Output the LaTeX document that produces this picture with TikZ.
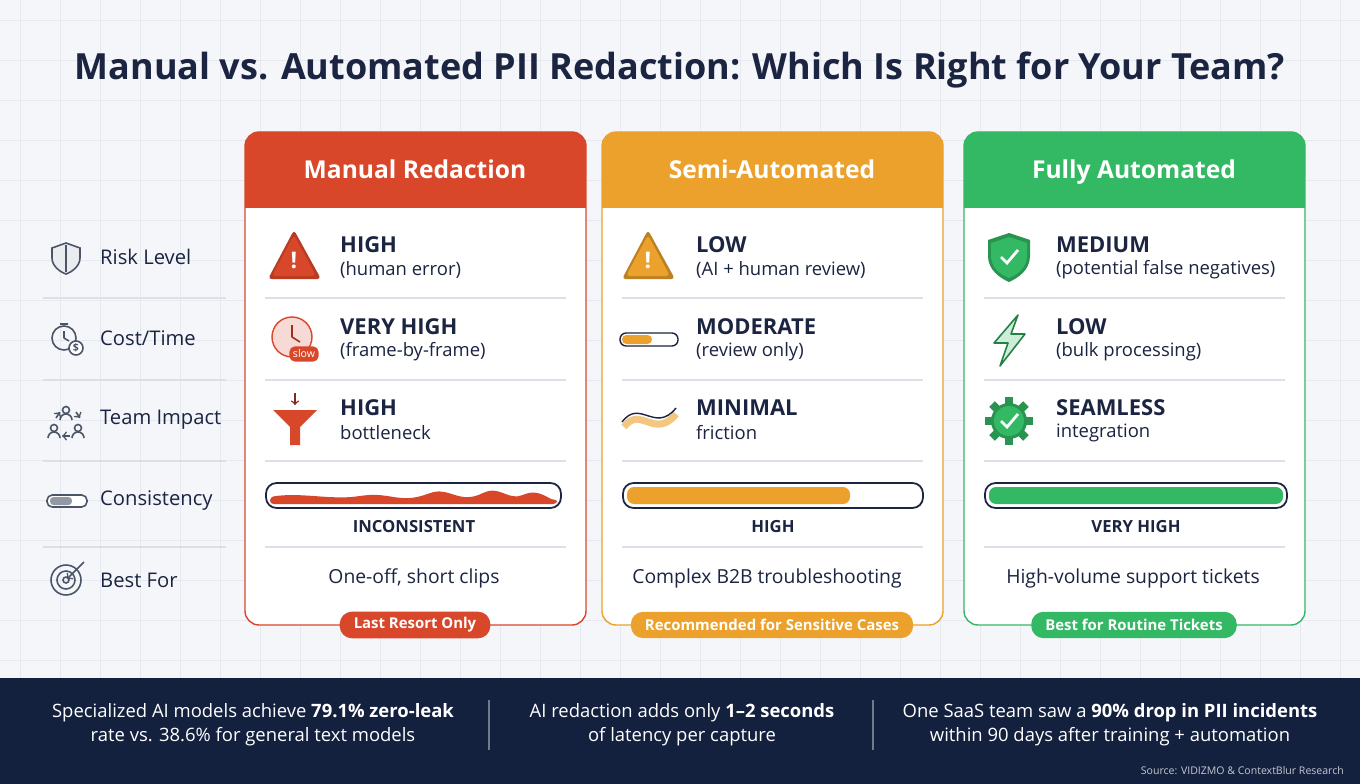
\documentclass[tikz,border=0pt]{standalone}
\usepackage{fontspec}
\setmainfont{Open Sans}
\usetikzlibrary{calc}
\definecolor{bgc}{HTML}{F4F6FA}
\definecolor{gridc}{HTML}{E6EAF0}
\definecolor{ink}{HTML}{1B2440}
\definecolor{navy}{HTML}{13213F}
\definecolor{lnc}{HTML}{DCE0E6}
\definecolor{icc}{HTML}{4A5568}
\definecolor{redc}{HTML}{D9472B}
\definecolor{orc}{HTML}{EBA12B}
\definecolor{grc}{HTML}{33B864}
\newcommand{\fs}[1]{\fontsize{#1}{#1}\selectfont}

\begin{document}
\begin{tikzpicture}
	[
		x=0.02cm, y=-0.02cm,
		rowlbl/.style = {anchor=west, text=ink, font=\fs{11.5}},
		val/.style = {anchor=west, text=ink, font=\fs{12.5}\bfseries},
		sub/.style = {anchor=west, text=ink, font=\fs{10.5}},
		barlbl/.style = {text=ink, font=\fs{9.5}\bfseries},
		best/.style = {text=ink, font=\fs{11}},
		hdr/.style = {text=white, font=\fs{14}\bfseries},
		badge/.style = {rounded corners=7, text=white, font=\fs{8.5}\bfseries, inner xsep=8pt, minimum height=15pt},
		foot/.style = {text=white, font=\fontsize{10.5}{13.5}\selectfont, align=center},
		sep/.style = {draw=lnc, line width=0.6pt},
		ico/.style = {draw=icc, line width=0.9pt}
	]
	
	% background and grid
	\useasboundingbox (0,0) rectangle (1360,784);
	\fill[bgc] (0,0) rectangle (1360,784);
	\foreach \gx in {20,60,...,1360} \draw[gridc, line width=0.4pt] (\gx,0) -- (\gx,678);
	\foreach \gy in {20,60,...,660} \draw[gridc, line width=0.4pt] (0,\gy) -- (1360,\gy);
	
	\node (title) [text=ink, font=\fs{20.5}\bfseries] at (680,70) {Manual vs. Automated PII Redaction: Which Is Right for Your Team?};
	
	% left row labels
	\node (lrisk) [rowlbl] at (94,257) {Risk Level};
	\node (lcost) [rowlbl] at (94,338) {Cost/Time};
	\node (lteam) [rowlbl] at (94,420) {Team Impact};
	\node (lcons) [rowlbl] at (94,501) {Consistency};
	\node (lbest) [rowlbl] at (94,580) {Best For};
	\foreach \yy in {298,380,461,547} \draw[sep] (43,\yy) -- (226,\yy);
	
	% left icons
	\draw[ico, fill=lnc!60] (66,243) -- (80,248) -- (80,258) .. controls (80,266) and (72,272) .. (66,274) .. controls (60,272) and (52,266) .. (52,258) -- (52,248) -- cycle;
	\draw[ico] (66,245) -- (66,272);
	\draw[ico] (64,338) circle (12);
	\draw[ico] (64,338) -- (64,331) (64,338) -- (69,341) (60,324) -- (68,324);
	\draw[ico, fill=white] (76,348) circle (7);
	\node (dol) [text=icc, font=\fs{6}\bfseries] at (76,348) {\$};
	\foreach \px/\py in {66/410,54/428,78/428} {
		\draw[ico] (\px,\py) circle (3.5);
		\draw[ico] ($(\px,\py)+(-6,10)$) arc (180:360:6);
	}
	\draw[ico, ->] (56,418) -- (60,412);
	\draw[ico, ->] (76,412) -- (80,418);
	\draw[ico, ->] (70,436) -- (62,436);
	\draw[ico, rounded corners=3, fill=white] (47,495) rectangle (87,507);
	\fill[icc!60, rounded corners=2] (50,497) rectangle (72,505);
	\draw[ico] (66,580) circle (15) (66,580) circle (9) (66,580) circle (3);
	\draw[ico, ->] (84,562) -- (67,579);
	
	% cards
	\foreach \cx/\col/\ttl/\bdg in {245/redc/Manual Redaction/Last Resort Only,
			602/orc/Semi-Automated/Recommended for Sensitive Cases,
			964/grc/Fully Automated/Best for Routine Tickets} {
		\draw[\col, fill=white, rounded corners=8, line width=0.8pt] (\cx,132) rectangle ($(\cx,625)+(341,0)$);
		\fill[\col, rounded corners=8] (\cx,132) rectangle ($(\cx,190)+(341,0)$);
		\fill[\col] (\cx,175) rectangle ($(\cx,208)+(341,0)$);
		\node [hdr] at ($(\cx,172)+(170,0)$) {\vphantom{Mg}\ttl};
		\foreach \yy in {298,380,461,547} \draw[sep] ($(\cx,\yy)+(20,0)$) -- ($(\cx,\yy)+(321,0)$);
		\node [badge, fill=\col] at ($(\cx,625)+(170,0)$) {\bdg};
	}
	
	% manual redaction
	\fill[redc!85!black, rounded corners=2] (294,230) -- (321,279) -- (268,279) -- cycle;
	\fill[redc, rounded corners=2] (294,235) -- (316,276) -- (272,276) -- cycle;
	\node (mexc) [text=white, font=\fs{13}\bfseries] at (294,260) {!};
	\node (mv1) [val] at (334,245) {HIGH};
	\node (ms1) [sub] at (334,270) {(human error)};
	\draw[redc, fill=redc!20, line width=0.8pt] (292,337) circle (20);
	\draw[redc!70!black, line width=0.9pt] (292,337) -- (292,325) (292,337) -- (300,342);
	\node (slow) [rounded corners=3, fill=redc, text=white, font=\fs{6}, inner sep=2pt] at (304,354) {slow};
	\node (mv2) [val] at (334,327) {VERY HIGH};
	\node (ms2) [sub] at (334,352) {(frame-by-frame)};
	\draw[redc!60!black, line width=0.8pt, ->] (295,393) -- (295,405);
	\fill[redc] (273,410) -- (317,410) -- (300,427) -- (300,445) -- (290,445) -- (290,427) -- cycle;
	\node (mv3) [val] at (334,408) {HIGH};
	\node (ms3) [sub] at (334,433) {bottleneck};
	\draw[ink, line width=1pt, rounded corners=6, fill=white] (266,483) rectangle (561,508);
	\fill[redc, rounded corners=2] (270,504) -- (270,497) .. controls (300,492) and (330,500) .. (360,496) .. controls (390,492) and (400,504) .. (430,493) .. controls (450,488) and (460,504) .. (485,492) .. controls (500,488) and (510,500) .. (525,494) .. controls (540,490) and (550,500) .. (557,499) -- (557,504) -- cycle;
	\node (mcap) [barlbl] at (414,527) {INCONSISTENT};
	\node (mbest) [best] at (414,578) {One-off, short clips};
	
	% semi-automated
	\fill[orc!80!black, rounded corners=2] (648,230) -- (675,279) -- (622,279) -- cycle;
	\fill[orc, rounded corners=2] (648,235) -- (670,276) -- (626,276) -- cycle;
	\node (sexc) [text=white, font=\fs{13}\bfseries] at (648,260) {!};
	\node (sv1) [val] at (690,245) {LOW};
	\node (ss1) [sub] at (690,270) {(AI + human review)};
	\draw[ink, line width=0.8pt, rounded corners=3.5, fill=white] (620,333) rectangle (678,346);
	\fill[orc, rounded corners=2.5] (622,335) rectangle (652,344);
	\node (sv2) [val] at (690,327) {MODERATE};
	\node (ss2) [sub] at (690,352) {(review only)};
	\draw[orc!60, line width=4pt] (624,427) .. controls (640,405) and (655,440) .. (676,414);
	\draw[ink, line width=0.8pt] (622,422) .. controls (640,398) and (655,434) .. (676,408);
	\node (sv3) [val] at (690,408) {MINIMAL};
	\node (ss3) [sub] at (690,433) {friction};
	\draw[ink, line width=1pt, rounded corners=6, fill=white] (623,483) rectangle (923,508);
	\fill[orc, rounded corners=4] (627,487) rectangle (850,504);
	\node (scap) [barlbl] at (773,527) {HIGH};
	\node (sbest) [best] at (767,578) {Complex B2B troubleshooting};
	
	% fully automated
	\fill[grc!80!black] (1009,233) -- (1030,240) -- (1030,256) .. controls (1030,270) and (1018,278) .. (1009,282) .. controls (1000,278) and (988,270) .. (988,256) -- (988,240) -- cycle;
	\fill[grc] (1009,237) -- (1027,243) -- (1027,256) .. controls (1027,268) and (1017,275) .. (1009,278) .. controls (1001,275) and (991,268) .. (991,256) -- (991,243) -- cycle;
	\draw[white, line width=1.6pt] (1001,257) -- (1007,263) -- (1018,250);
	\node (fv1) [val] at (1050,245) {MEDIUM};
	\node (fs1) [sub] at (1050,270) {(potential false negatives)};
	\draw[grc!70!black, fill=grc!25, line width=0.9pt, line join=round] (1018,315) -- (994,343) -- (1008,343) -- (1000,366) -- (1025,334) -- (1011,334) -- cycle;
	\node (fv2) [val] at (1050,327) {LOW};
	\node (fs2) [sub] at (1050,352) {(bulk processing)};
	\foreach \a in {0,45,...,315} \fill[grc!80!black, rotate around={\a:(1009,421)}] (1005,397) rectangle (1013,406);
	\fill[grc!80!black] (1009,421) circle (18);
	\fill[grc] (1009,421) circle (15);
	\draw[white, line width=1.6pt] (1001,421) -- (1007,427) -- (1018,414);
	\node (fv3) [val] at (1050,408) {SEAMLESS};
	\node (fs3) [sub] at (1050,433) {integration};
	\draw[ink, line width=1pt, rounded corners=6, fill=white] (985,483) rectangle (1287,508);
	\fill[grc, rounded corners=4] (989,487) rectangle (1283,504);
	\node (fcap) [barlbl] at (1136,527) {VERY HIGH};
	\node (fbest) [best] at (1133,578) {High-volume support tickets};
	
	% footer band
	\fill[navy] (0,678) rectangle (1360,784);
	\node (st1) [foot] at (253,725) {Specialized AI models achieve \textbf{79.1\% zero-leak}\\rate vs. 38.6\% for general text models};
	\node (st2) [foot] at (682,725) {AI redaction adds only \textbf{1–2 seconds}\\of latency per capture};
	\node (st3) [foot] at (1110,725) {One SaaS team saw a \textbf{90\% drop in PII incidents}\\within 90 days after training + automation};
	\draw[white!40!navy, line width=0.6pt] (489,700) -- (489,750) (873,700) -- (873,750);
	\node (src) [anchor=east, text=white!75!navy, font=\fs{6}] at (1350,771) {Source: VIDIZMO \& ContextBlur Research};
	
\end{tikzpicture}
\end{document}
